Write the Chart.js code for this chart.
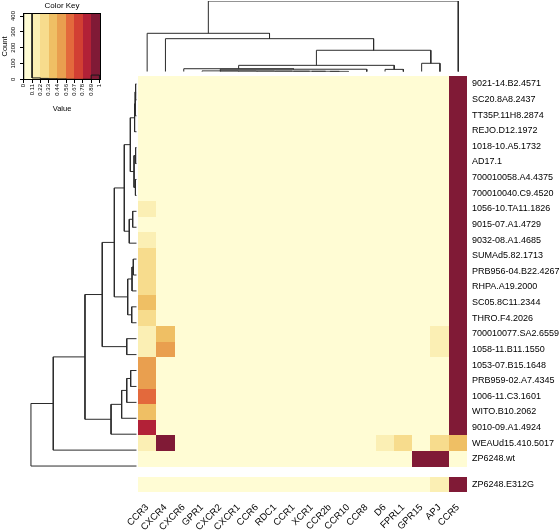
<!DOCTYPE html>
<html lang="en">
<head>
<meta charset="UTF-8" />
<title>Heatmap</title>
<script src="https://cdn.jsdelivr.net/npm/chart.js@4.4.1/dist/chart.umd.min.js"></script>
<style>
  html, body { margin: 0; padding: 0; background: #fff; }
  #wrap { position: relative; width: 560px; height: 531px; overflow: hidden; }
  #wrap canvas { position: absolute; }
</style>
</head>
<body>
<div id="wrap">
  <canvas id="heat" width="560" height="531" style="left:0;top:0"></canvas>
  <canvas id="coldendro" width="330" height="76" style="left:138px;top:0"></canvas>
  <canvas id="rowdendro" width="138" height="398" style="left:0;top:76px"></canvas>
  <canvas id="key" width="110" height="116" style="left:0;top:0"></canvas>
</div>
<script>
// ---- data ----
const colLabels = ["CCR3", "CXCR4", "CXCR6", "GPR1", "CXCR2", "CXCR1", "CCR6", "RDC1", "CCR1",
  "XCR1", "CCR2b", "CCR10", "CCR8", "D6", "FPRL1", "GPR15", "APJ", "CCR5"];

const rowLabels = ["9021-14.B2.4571", "SC20.8A8.2437", "TT35P.11H8.2874", "REJO.D12.1972",
  "1018-10.A5.1732", "AD17.1", "700010058.A4.4375", "700010040.C9.4520", "1056-10.TA11.1826",
  "9015-07.A1.4729", "9032-08.A1.4685", "SUMAd5.82.1713", "PRB956-04.B22.4267", "RHPA.A19.2000",
  "SC05.8C11.2344", "THRO.F4.2026", "700010077.SA2.6559", "1058-11.B11.1550", "1053-07.B15.1648",
  "PRB959-02.A7.4345", "1006-11.C3.1601", "WITO.B10.2062", "9010-09.A1.4924", "WEAUd15.410.5017",
  "ZP6248.wt", "ZP6248.E312G"];

// one row per sample, columns in colLabels order
const values = [
  [0, 0, 0, 0, 0, 0, 0, 0, 0, 0, 0, 0, 0, 0, 0, 0, 0, 1],
  [0, 0, 0, 0, 0, 0, 0, 0, 0, 0, 0, 0, 0, 0, 0, 0, 0, 1],
  [0, 0, 0, 0, 0, 0, 0, 0, 0, 0, 0, 0, 0, 0, 0, 0, 0, 1],
  [0, 0, 0, 0, 0, 0, 0, 0, 0, 0, 0, 0, 0, 0, 0, 0, 0, 1],
  [0, 0, 0, 0, 0, 0, 0, 0, 0, 0, 0, 0, 0, 0, 0, 0, 0, 1],
  [0, 0, 0, 0, 0, 0, 0, 0, 0, 0, 0, 0, 0, 0, 0, 0, 0, 1],
  [0, 0, 0, 0, 0, 0, 0, 0, 0, 0, 0, 0, 0, 0, 0, 0, 0, 1],
  [0, 0, 0, 0, 0, 0, 0, 0, 0, 0, 0, 0, 0, 0, 0, 0, 0, 1],
  [0.17, 0, 0, 0, 0, 0, 0, 0, 0, 0, 0, 0, 0, 0, 0, 0, 0, 1],
  [0.05, 0, 0, 0, 0, 0, 0, 0, 0, 0, 0, 0, 0, 0, 0, 0, 0, 1],
  [0.18, 0, 0, 0, 0, 0, 0, 0, 0, 0, 0, 0, 0, 0, 0, 0, 0, 1],
  [0.27, 0, 0, 0, 0, 0, 0, 0, 0, 0, 0, 0, 0, 0, 0, 0, 0, 1],
  [0.28, 0, 0, 0, 0, 0, 0, 0, 0, 0, 0, 0, 0, 0, 0, 0, 0, 1],
  [0.29, 0, 0, 0, 0, 0, 0, 0, 0, 0, 0, 0, 0, 0, 0, 0, 0, 1],
  [0.38, 0, 0, 0, 0, 0, 0, 0, 0, 0, 0, 0, 0, 0, 0, 0, 0, 1],
  [0.26, 0, 0, 0, 0, 0, 0, 0, 0, 0, 0, 0, 0, 0, 0, 0, 0, 1],
  [0.15, 0.38, 0, 0, 0, 0, 0, 0, 0, 0, 0, 0, 0, 0, 0, 0, 0.14, 1],
  [0.16, 0.48, 0, 0, 0, 0, 0, 0, 0, 0, 0, 0, 0, 0, 0, 0, 0.14, 1],
  [0.5, 0, 0, 0, 0, 0, 0, 0, 0, 0, 0, 0, 0, 0, 0, 0, 0, 1],
  [0.49, 0, 0, 0, 0, 0, 0, 0, 0, 0, 0, 0, 0, 0, 0, 0, 0, 1],
  [0.62, 0, 0, 0, 0, 0, 0, 0, 0, 0, 0, 0, 0, 0, 0, 0, 0, 1],
  [0.37, 0, 0, 0, 0, 0, 0, 0, 0, 0, 0, 0, 0, 0, 0, 0, 0, 1],
  [0.84, 0, 0, 0, 0, 0, 0, 0, 0, 0, 0, 0, 0, 0, 0, 0, 0, 1],
  [0.15, 1, 0, 0, 0, 0, 0, 0, 0, 0, 0, 0, 0, 0.16, 0.27, 0, 0.3, 0.4],
  [0, 0, 0, 0, 0, 0, 0, 0, 0, 0, 0, 0, 0, 0, 0, 1, 1, 0],
  [0, 0, 0, 0, 0, 0, 0, 0, 0, 0, 0, 0, 0, 0, 0, 0, 0.15, 1]
];

// colour key breaks and colours
const keyBreaks = [0, 0.11, 0.22, 0.33, 0.44, 0.56, 0.67, 0.78, 0.89, 1];
const keyColors = ["#fffcd4", "#fbefb4", "#f7dc8d", "#efbf64", "#e99f4f",
  "#e3693c", "#d23f33", "#b22137", "#801a36"];
const countTicks = [0, 100, 200, 300, 400];

// dendrograms, hclust style: negative = leaf (1-based display position), positive = earlier merge
const colMerges = [
  [-11, -12, 0.04], [-10, 1, 0.05], [-9, 2, 0.06], [-8, 3, 0.07], [-7, 4, 0.08],
  [-6, 5, 0.09], [-5, 6, 0.10], [-4, 7, 0.11], [8, -13, 0.35], [-3, 9, 0.42],
  [-14, -15, 0.33], [10, 11, 0.9], [-16, -17, 1.19], [12, 13, 3.03],
  [-2, 14, 4.67], [-1, 15, 5.43], [16, -18, 10]
];
const rowMerges = [
  [-1, -2, 0.1], [1, -3, 0.15], [2, -4, 0.2], [-5, -6, 0.1], [-7, -8, 0.12],
  [4, 5, 0.25], [3, 6, 0.6], [-9, -10, 0.38], [8, -11, 0.7], [7, 9, 1.17],
  [-12, -13, 0.32], [11, -14, 0.44], [-15, -16, 0.47], [12, 13, 0.85],
  [10, 14, 2.11], [-17, -18, 0.94], [15, 16, 3.25], [-19, -20, 0.57],
  [18, -21, 0.94], [19, -22, 1.42], [20, -23, 2.42], [17, 21, 4.88],
  [22, -24, 7.87], [23, -25, 10]
];

// ---- helpers ----
Chart.defaults.font.family = '"Liberation Sans", Arial, Helvetica, sans-serif';
Chart.defaults.color = "#000";

function binOf(v) {
  let b = 0;
  for (let i = 0; i < keyColors.length; i++) if (v >= keyBreaks[i]) b = i;
  return b;
}

// one polyline per merge: up from child A, across, down to child B
function dendroPaths(merges) {
  const pos = [], hgt = [];
  const node = (ref) => ref < 0 ? { p: -ref - 1, h: 0 } : { p: pos[ref - 1], h: hgt[ref - 1] };
  return merges.map(([a, b, h], k) => {
    const A = node(a), B = node(b);
    pos[k] = (A.p + B.p) / 2;
    hgt[k] = h;
    return [{ p: A.p, h: A.h }, { p: A.p, h: h }, { p: B.p, h: h }, { p: B.p, h: B.h }];
  });
}

const lineStyle = { showLine: true, borderColor: "#2b2b2b", borderWidth: 1, pointRadius: 0, fill: false };
const base = {
  responsive: false, animation: false, devicePixelRatio: 1, events: [],
  plugins: { legend: { display: false }, tooltip: { enabled: false } }
};

// ---- heatmap ----
const gapRows = 0.635;
const rowPos = rowLabels.map((_, i) => (i < 25 ? i : 25 + gapRows));

const cellPlugin = {
  id: "cells",
  beforeDatasetsDraw(chart) {
    const { ctx, scales: { x, y } } = chart;
    values.forEach((row, r) => {
      row.forEach((v, c) => {
        const x0 = Math.round(x.getPixelForValue(c - 0.5));
        const x1 = Math.round(x.getPixelForValue(c + 0.5));
        const y0 = Math.round(y.getPixelForValue(rowPos[r] - 0.5));
        const y1 = Math.round(y.getPixelForValue(rowPos[r] + 0.5));
        ctx.fillStyle = keyColors[binOf(v)];
        ctx.fillRect(x0, y0, x1 - x0, y1 - y0);
      });
    });
  }
};

new Chart(document.getElementById("heat"), {
  type: "scatter",
  data: { datasets: [] },
  options: {
    ...base,
    layout: { padding: { left: 138, top: 76, right: 0, bottom: 0 } },
    scales: {
      x: {
        type: "linear", position: "bottom", min: -0.5, max: 17.5,
        afterBuildTicks: (a) => { a.ticks = colLabels.map((_, i) => ({ value: i })); },
        afterFit: (a) => { a.height = 31; },
        ticks: { autoSkip: false, minRotation: 45, maxRotation: 45, padding: 2,
          font: { size: 9.5 }, callback: (v, i) => colLabels[i] },
        grid: { display: false, drawTicks: false },
        border: { display: false }
      },
      y: {
        type: "linear", position: "right", reverse: true, min: -0.5, max: 25.5 + gapRows + 0.5,
        afterBuildTicks: (a) => { a.ticks = rowPos.map((p) => ({ value: p })); },
        afterFit: (a) => { a.width = 93; },
        ticks: { autoSkip: false, padding: 5, font: { size: 9 }, callback: (v, i) => rowLabels[i] },
        grid: { display: false, drawTicks: false },
        border: { display: false }
      }
    }
  },
  plugins: [cellPlugin]
});

// ---- column dendrogram ----
new Chart(document.getElementById("coldendro"), {
  type: "scatter",
  data: {
    datasets: dendroPaths(colMerges).map((path) => ({
      ...lineStyle, data: path.map((q) => ({ x: q.p, y: q.h }))
    }))
  },
  options: {
    ...base,
    layout: { padding: { left: 0, right: 0.6, top: 1, bottom: 4.3 } },
    scales: {
      x: { type: "linear", min: -0.5, max: 17.5, display: false },
      y: { type: "linear", min: 0, max: 10, display: false }
    }
  }
});

// ---- row dendrogram ----
new Chart(document.getElementById("rowdendro"), {
  type: "scatter",
  data: {
    datasets: dendroPaths(rowMerges).map((path) => ({
      ...lineStyle, data: path.map((q) => ({ x: q.h, y: q.p }))
    }))
  },
  options: {
    ...base,
    layout: { padding: { left: 30.7, right: 1.3, top: 0, bottom: 0 } },
    scales: {
      x: { type: "linear", reverse: true, min: 0, max: 10, display: false },
      y: { type: "linear", reverse: true, min: -0.5, max: 24.5, display: false }
    }
  }
});

// ---- colour key with histogram ----
const counts = keyColors.map(() => 0);
values.forEach((row) => row.forEach((v) => { counts[binOf(v)] += 1; }));
const histPts = [{ x: keyBreaks[0], y: 0 }];
counts.forEach((c, i) => {
  histPts.push({ x: keyBreaks[i], y: c }, { x: keyBreaks[i + 1], y: c });
});
histPts.push({ x: keyBreaks[keyBreaks.length - 1], y: 0 });

const keyPlugin = {
  id: "keyBands",
  beforeDatasetsDraw(chart) {
    const { ctx, chartArea: ca, scales: { x } } = chart;
    keyColors.forEach((col, i) => {
      const x0 = i === 0 ? ca.left : Math.round(x.getPixelForValue(keyBreaks[i]));
      const x1 = i === keyColors.length - 1 ? ca.right : Math.round(x.getPixelForValue(keyBreaks[i + 1]));
      ctx.fillStyle = col;
      ctx.fillRect(x0, ca.top, x1 - x0, ca.bottom - ca.top);
    });
  },
  afterDraw(chart) {
    const { ctx, chartArea: ca } = chart;
    ctx.save();
    ctx.strokeStyle = "#000";
    ctx.lineWidth = 1;
    ctx.strokeRect(Math.round(ca.left) + 0.5, Math.round(ca.top) + 0.5,
      Math.round(ca.right - ca.left) - 1, Math.round(ca.bottom - ca.top) - 1);
    ctx.restore();
  }
};

new Chart(document.getElementById("key"), {
  type: "scatter",
  data: { datasets: [{ ...lineStyle, borderColor: "#1a1a1a", data: histPts }] },
  options: {
    ...base,
    layout: { padding: { left: 0, right: 9, top: 0, bottom: 0 } },
    plugins: {
      ...base.plugins,
      title: { display: true, text: "Color Key", fullSize: false, color: "#000",
        font: { size: 8, weight: "normal" }, padding: { top: 1, bottom: 2.4 } }
    },
    scales: {
      x: {
        type: "linear", min: -0.01, max: 1.02,
        afterBuildTicks: (a) => { a.ticks = keyBreaks.map((v) => ({ value: v })); },
        afterFit: (a) => { a.height = 36; },
        ticks: { autoSkip: false, minRotation: 90, maxRotation: 90, padding: 1,
          font: { size: 6 }, callback: (v, i) => String(keyBreaks[i]) },
        grid: { drawOnChartArea: false, tickLength: 3, color: "#000" },
        border: { display: false },
        title: { display: true, text: "Value", font: { size: 7.5 }, padding: { top: 0, bottom: 3 } }
      },
      y: {
        type: "linear", min: -4, max: 419,
        afterBuildTicks: (a) => { a.ticks = countTicks.map((v) => ({ value: v })); },
        afterFit: (a) => { a.width = 23; },
        ticks: { minRotation: 90, maxRotation: 90, crossAlign: "center", padding: 2,
          font: { size: 6 } },
        grid: { drawOnChartArea: false, tickLength: 3, color: "#000" },
        border: { display: false },
        title: { display: true, text: "Count", font: { size: 7.5 }, padding: { top: 0, bottom: 0 } }
      }
    }
  },
  plugins: [keyPlugin]
});
</script>
</body>
</html>
